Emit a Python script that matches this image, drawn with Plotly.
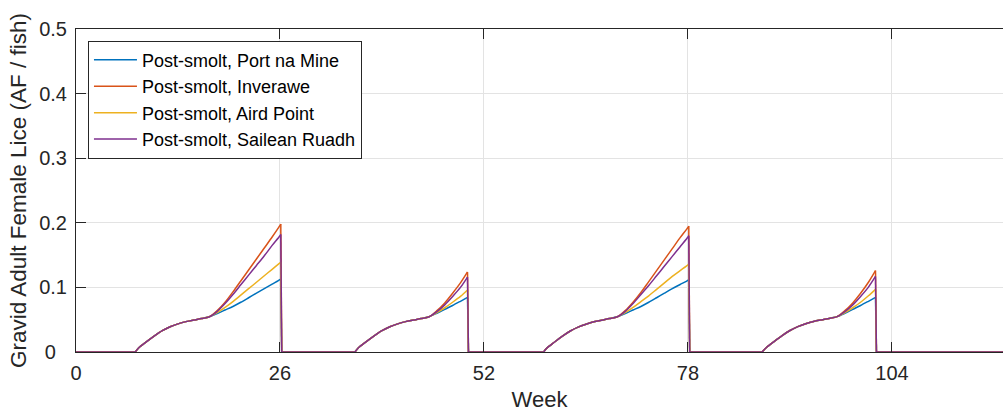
import plotly.graph_objects as go

# ---------------- data ----------------
series_names = ["Post-smolt, Port na Mine", "Post-smolt, Inverawe",
                "Post-smolt, Aird Point", "Post-smolt, Sailean Ruadh"]
series_colors = ["#0072BD", "#D95319", "#EDB120", "#7E2F8E"]

x_ticks = [0, 26, 52, 78, 104]
y_ticks = [0, 0.1, 0.2, 0.3, 0.4, 0.5]
y_tick_labels = ["0\u00a0\u00a0", "0.1", "0.2", "0.3", "0.4", "0.5"]

# cycle 1
weeks_c1 = [7.55, 8, 9, 10, 11, 12, 13, 14, 15, 16, 17,
            18, 19, 20, 21, 22, 23, 24, 25, 26, 26.1]
rise_c1 = [0, 0.0065, 0.016, 0.025, 0.033, 0.039, 0.0435, 0.047, 0.0495, 0.0518, 0.0545]
c1_port = [0.0595, 0.065, 0.0705, 0.077, 0.084, 0.091, 0.098, 0.105, 0.112, 0.113]
c1_inver = [0.064, 0.077, 0.093, 0.110, 0.127, 0.144, 0.161, 0.178, 0.196, 0.198]
c1_aird = [0.061, 0.069, 0.078, 0.088, 0.098, 0.108, 0.118, 0.128, 0.138, 0.139]
c1_sail = [0.063, 0.075, 0.089, 0.104, 0.119, 0.134, 0.149, 0.165, 0.180, 0.182]

# cycle 2
weeks_c2 = [35.55, 36, 37, 38, 39, 40, 41, 42, 43, 44, 45,
            46, 47, 48, 49, 49.9]
rise_c2 = [0, 0.0065, 0.016, 0.025, 0.033, 0.039, 0.0435, 0.047, 0.0495, 0.0518, 0.0545]
c2_port = [0.060, 0.066, 0.072, 0.0785, 0.0845]
c2_inver = [0.064, 0.076, 0.091, 0.107, 0.124]
c2_aird = [0.061, 0.0685, 0.077, 0.086, 0.096]
c2_sail = [0.0625, 0.073, 0.086, 0.100, 0.116]

# cycle 3
weeks_c3 = [59.6, 60, 61, 62, 63, 64, 65, 66, 67, 68, 69,
            70, 71, 72, 73, 74, 75, 76, 77, 78, 78.1]
rise_c3 = [0, 0.006, 0.0155, 0.0245, 0.0325, 0.0385, 0.043, 0.0467, 0.0493, 0.0517, 0.0545]
c3_port = [0.0595, 0.065, 0.0705, 0.077, 0.084, 0.091, 0.098, 0.1045, 0.111, 0.112]
c3_inver = [0.064, 0.077, 0.092, 0.109, 0.126, 0.143, 0.160, 0.177, 0.193, 0.195]
c3_aird = [0.061, 0.069, 0.078, 0.087, 0.097, 0.107, 0.117, 0.126, 0.135, 0.136]
c3_sail = [0.063, 0.075, 0.089, 0.103, 0.118, 0.133, 0.148, 0.163, 0.178, 0.180]

# cycle 4
weeks_c4 = [87.45, 88, 89, 90, 91, 92, 93, 94, 95, 96, 97,
            98, 99, 100, 101, 101.9]
rise_c4 = [0, 0.007, 0.0165, 0.0255, 0.0333, 0.0392, 0.0437, 0.0472, 0.0497, 0.052, 0.0547]
c4_port = [0.060, 0.066, 0.072, 0.0785, 0.0845]
c4_inver = [0.064, 0.076, 0.091, 0.108, 0.126]
c4_aird = [0.061, 0.0685, 0.077, 0.087, 0.097]
c4_sail = [0.0625, 0.073, 0.086, 0.1005, 0.117]

# week at which each cycle's lice count drops back to zero
drop_weeks = [26.22, 50.02, 78.22, 102.02]
x_end = 118.15

cycle_weeks = [weeks_c1, weeks_c2, weeks_c3, weeks_c4]
cycle_rises = [rise_c1, rise_c2, rise_c3, rise_c4]
tails = [
    [c1_port, c2_port, c3_port, c4_port],
    [c1_inver, c2_inver, c3_inver, c4_inver],
    [c1_aird, c2_aird, c3_aird, c4_aird],
    [c1_sail, c2_sail, c3_sail, c4_sail],
]


def build(series_tails):
    xs, ys = [], []
    prev = 0
    for wk, rise, tail, dx in zip(cycle_weeks, cycle_rises, series_tails, drop_weeks):
        vals = rise + tail
        xs += [prev, wk[0], None]
        ys += [0, 0, None]
        xs += wk + [None]
        ys += vals + [None]
        xs += [wk[-1], dx, None]
        ys += [vals[-1], 0, None]
        prev = dx
    xs += [prev, x_end]
    ys += [0, 0]
    return xs, ys


fig = go.Figure()
for name, color, st in zip(series_names, series_colors, tails):
    xs, ys = build(st)
    fig.add_trace(go.Scatter(
        x=xs, y=ys, mode="lines", name=name,
        line=dict(color=color, width=1.5, shape="spline", smoothing=0.8),
        connectgaps=False,
    ))

font_family = "Liberation Sans, Arial, sans-serif"
axis_color = "#262626"
grid_color = "#E3E3E3"

fig.update_layout(
    width=1003, height=412,
    margin=dict(l=76, r=0, t=29, b=60),
    paper_bgcolor="white", plot_bgcolor="white",
    font=dict(family=font_family, size=20, color=axis_color),
    showlegend=True,
    legend=dict(
        x=0.0129, y=0.964, xanchor="left", yanchor="top",
        bgcolor="white", bordercolor=axis_color, borderwidth=1,
        font=dict(family=font_family, size=18, color="#000000"),
        tracegroupgap=0, itemwidth=43,
    ),
    xaxis=dict(
        range=[0, x_end], tickvals=x_ticks, ticktext=[str(t) for t in x_ticks],
        ticks="inside", ticklen=10, tickcolor=axis_color, tickwidth=1,
        showline=True, linecolor=axis_color, linewidth=1, mirror="ticks",
        showgrid=True, gridcolor=grid_color, gridwidth=1, zeroline=False,
        tickfont=dict(size=20, color=axis_color),
        title=dict(text="Week", font=dict(size=22, color=axis_color), standoff=8),
        ticklabelstandoff=3,
    ),
    yaxis=dict(
        range=[0, 0.5], tickvals=y_ticks, ticktext=y_tick_labels,
        ticks="inside", ticklen=10, tickcolor=axis_color, tickwidth=1,
        showline=True, linecolor=axis_color, linewidth=1, mirror=False,
        showgrid=True, gridcolor=grid_color, gridwidth=1, zeroline=False,
        tickfont=dict(size=20, color=axis_color),
        title=dict(text="Gravid Adult Female Lice (AF / fish)",
                   font=dict(size=22.5, color=axis_color), standoff=6),
        ticklabelstandoff=4,
    ),
)

fig.write_html("out.html")
